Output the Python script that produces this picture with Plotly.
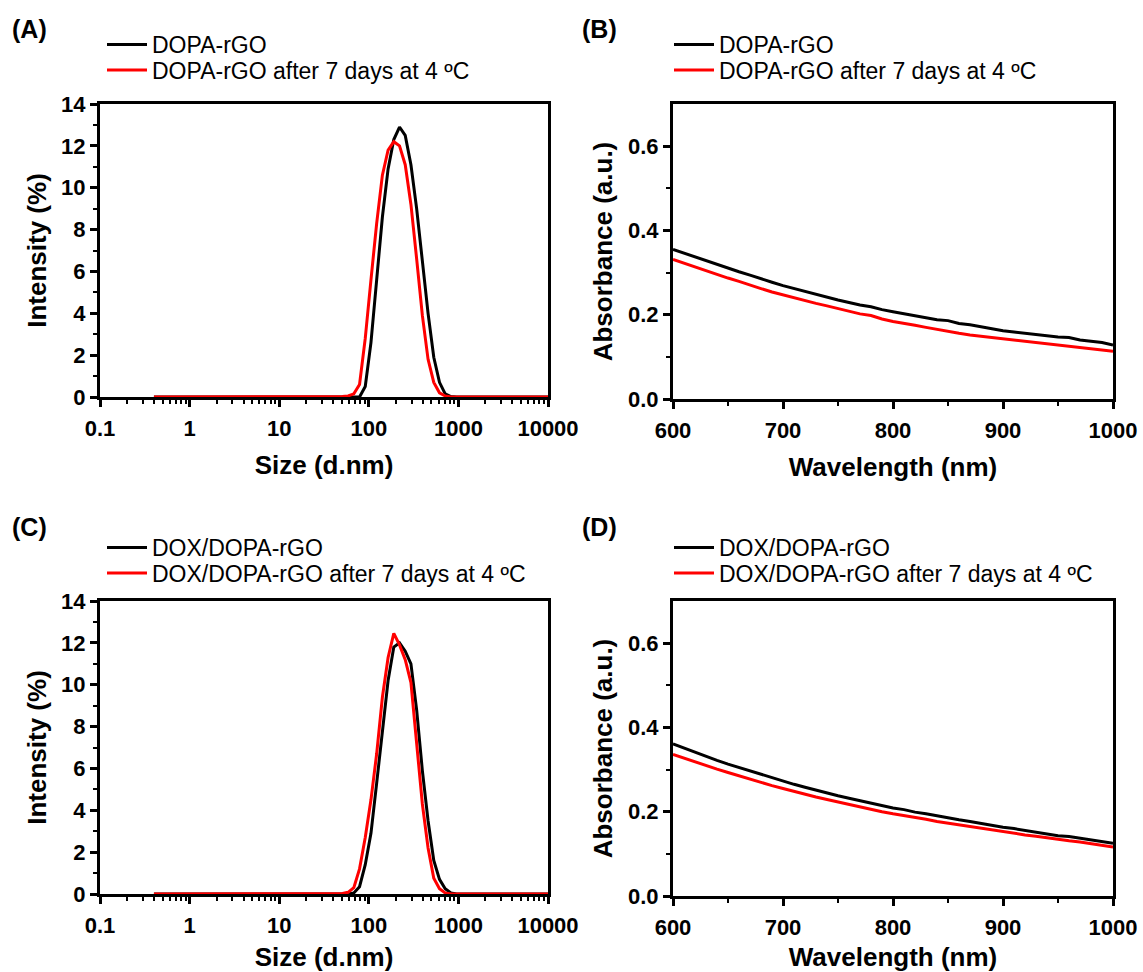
import plotly.graph_objects as go

# ---------------- DATA ----------------
sizes_nm = [0.4, 0.4632, 0.5365, 0.6213, 0.7195, 0.8332, 0.9649, 1.117, 1.294, 1.499,
            1.736, 2.01, 2.328, 2.696, 3.122, 3.615, 4.187, 4.849, 5.615, 6.503,
            7.531, 8.721, 10.1, 11.7, 13.54, 15.69, 18.17, 21.04, 24.36, 28.21,
            32.67, 37.84, 43.82, 50.75, 58.77, 68.06, 78.82, 91.28, 105.7, 122.4,
            141.8, 164.2, 190.1, 220.2, 255.0, 295.3, 342.0, 396.1, 458.7, 531.2,
            615.1, 712.4, 825.0, 955.4, 1106, 1281, 1484, 1718, 1990, 2305,
            2669, 3091, 3580, 4145, 4801, 5560, 6439, 7456, 8635, 10000]

dopa_fresh = [0, 0, 0, 0, 0, 0, 0, 0, 0, 0,
              0, 0, 0, 0, 0, 0, 0, 0, 0, 0,
              0, 0, 0, 0, 0, 0, 0, 0, 0, 0,
              0, 0, 0, 0, 0, 0, 0, 0.5, 2.6, 5.6,
              8.6, 10.9, 12.3, 12.9, 12.5, 11.1, 9.0, 6.5, 4.0, 1.9,
              0.7, 0.15, 0.02, 0, 0, 0, 0, 0, 0, 0,
              0, 0, 0, 0, 0, 0, 0, 0, 0, 0]
dopa_7d = [0, 0, 0, 0, 0, 0, 0, 0, 0, 0,
           0, 0, 0, 0, 0, 0, 0, 0, 0, 0,
           0, 0, 0, 0, 0, 0, 0, 0, 0, 0,
           0, 0, 0, 0.02, 0.05, 0.15, 0.6, 2.8, 5.6, 8.3,
           10.6, 11.8, 12.2, 12.0, 11.1, 9.2, 6.6, 3.9, 1.8, 0.7,
           0.2, 0.05, 0, 0, 0, 0, 0, 0, 0, 0,
           0, 0, 0, 0, 0, 0, 0, 0, 0, 0]
dox_fresh = [0, 0, 0, 0, 0, 0, 0, 0, 0, 0,
             0, 0, 0, 0, 0, 0, 0, 0, 0, 0,
             0, 0, 0, 0, 0, 0, 0, 0, 0, 0,
             0, 0, 0, 0, 0, 0.05, 0.35, 1.4, 2.9, 5.3,
             7.6, 10.2, 11.8, 12.0, 11.6, 11.0, 8.8, 5.9, 3.5, 1.6,
             0.7, 0.25, 0.05, 0, 0, 0, 0, 0, 0, 0,
             0, 0, 0, 0, 0, 0, 0, 0, 0, 0]
dox_7d = [0, 0, 0, 0, 0, 0, 0, 0, 0, 0,
          0, 0, 0, 0, 0, 0, 0, 0, 0, 0,
          0, 0, 0, 0, 0, 0, 0, 0, 0, 0,
          0, 0, 0, 0.02, 0.08, 0.3, 1.2, 2.7, 4.5, 6.7,
          9.4, 11.3, 12.45, 11.9, 11.2, 10.1, 7.2, 4.3, 2.2, 0.75,
          0.25, 0.05, 0, 0, 0, 0, 0, 0, 0, 0,
          0, 0, 0, 0, 0, 0, 0, 0, 0, 0]

wavelength_nm = [600, 610, 620, 630, 640, 650, 660, 670, 680, 690,
                 700, 710, 720, 730, 740, 750, 760, 770, 780, 790,
                 800, 810, 820, 830, 840, 850, 860, 870, 880, 890,
                 900, 910, 920, 930, 940, 950, 960, 970, 980, 990, 1000]
abs_dopa_fresh = [0.355, 0.346, 0.337, 0.329, 0.319, 0.311, 0.302, 0.294, 0.285, 0.277,
                  0.269, 0.262, 0.256, 0.248, 0.242, 0.235, 0.229, 0.223, 0.219, 0.212,
                  0.207, 0.202, 0.197, 0.193, 0.188, 0.186, 0.179, 0.176, 0.171, 0.166,
                  0.162, 0.159, 0.156, 0.153, 0.151, 0.147, 0.146, 0.140, 0.137, 0.134, 0.128]
abs_dopa_7d = [0.331, 0.322, 0.313, 0.304, 0.295, 0.287, 0.279, 0.270, 0.262, 0.254,
               0.247, 0.240, 0.234, 0.227, 0.221, 0.215, 0.208, 0.202, 0.198, 0.190,
               0.184, 0.180, 0.175, 0.170, 0.165, 0.161, 0.156, 0.152, 0.149, 0.145,
               0.142, 0.139, 0.136, 0.133, 0.130, 0.127, 0.125, 0.121, 0.118, 0.115, 0.113]
abs_dox_fresh = [0.361, 0.351, 0.341, 0.332, 0.322, 0.313, 0.305, 0.296, 0.288, 0.280,
                 0.272, 0.265, 0.258, 0.251, 0.244, 0.238, 0.232, 0.226, 0.220, 0.215,
                 0.209, 0.205, 0.199, 0.195, 0.190, 0.185, 0.181, 0.177, 0.172, 0.167,
                 0.163, 0.160, 0.156, 0.152, 0.148, 0.143, 0.141, 0.137, 0.133, 0.129, 0.125]
abs_dox_7d = [0.336, 0.327, 0.318, 0.310, 0.301, 0.293, 0.285, 0.277, 0.269, 0.262,
              0.255, 0.248, 0.242, 0.235, 0.229, 0.223, 0.217, 0.211, 0.206, 0.200,
              0.195, 0.191, 0.186, 0.182, 0.177, 0.173, 0.169, 0.165, 0.160, 0.156,
              0.152, 0.149, 0.145, 0.142, 0.138, 0.134, 0.131, 0.128, 0.124, 0.120, 0.116]

size_ticks = [0.1, 1, 10, 100, 1000, 10000]
size_tick_text = ["0.1", "1", "10", "100", "1000", "10000"]

names_top = ["DOPA-rGO", "DOPA-rGO after 7 days at 4 ºC"]
names_bottom = ["DOX/DOPA-rGO", "DOX/DOPA-rGO after 7 days at 4 ºC"]
panel_labels = ["(A)", "(B)", "(C)", "(D)"]

# ---------------- FIGURE ----------------
W, H = 1143, 972
FONT = "Arial, Liberation Sans, sans-serif"
BLACK, RED = "#000000", "#FF0000"

def px(x):
    return x / W

def py(y):
    return 1 - y / H

fig = go.Figure()

# (xaxis, yaxis, x data, fresh, aged, names, legend-left-px, legend-top-px)
series = [
    ("x", "y", sizes_nm, dopa_fresh, dopa_7d, names_top, 102, 23),
    ("x2", "y2", wavelength_nm, abs_dopa_fresh, abs_dopa_7d, names_top, 669, 23),
    ("x3", "y3", sizes_nm, dox_fresh, dox_7d, names_bottom, 102, 526),
    ("x4", "y4", wavelength_nm, abs_dox_fresh, abs_dox_7d, names_bottom, 669, 526),
]
legend_common = dict(xanchor="left", yanchor="top", bgcolor="rgba(0,0,0,0)",
                     font=dict(family=FONT, size=23, color="black"),
                     itemwidth=40, borderwidth=0)
legends = {}
k = 0
for xa, ya, xs, y1, y2, nm, lx, ly in series:
    for j, (yy, col) in enumerate([(y1, BLACK), (y2, RED)]):
        k += 1
        lname = "legend" if k == 1 else f"legend{k}"
        fig.add_trace(go.Scatter(x=xs, y=yy, mode="lines", name=nm[j], xaxis=xa, yaxis=ya,
                                 line=dict(color=col, width=3), legend=lname))
        legends[lname] = dict(legend_common, x=px(lx), y=py(ly + 25.5 * j))

left_dom = [px(100), px(548)]
right_dom = [px(673), px(1113)]
topA = [py(397), py(104)]
topB = [py(399), py(104)]
botC = [py(894), py(601)]
botD = [py(896), py(601)]

tickfont = dict(family=FONT, size=22, color="black", weight="bold")
titlefont = dict(family=FONT, size=26, color="black", weight="bold")
common = dict(showline=True, linecolor="black", linewidth=3, mirror=True,
              ticks="outside", ticklen=7, tickwidth=3, tickcolor="black",
              showgrid=False, zeroline=False, tickfont=tickfont, automargin=False)

def size_axis(dom, anchor):
    return dict(common, type="log", domain=dom, anchor=anchor, range=[-1, 4],
                tickmode="array", tickvals=size_ticks, ticktext=size_tick_text,
                ticklabelstandoff=3,
                minor=dict(ticks="outside", ticklen=4, tickwidth=2, tickcolor="black", dtick="D1"),
                title=dict(text="Size (d.nm)", font=titlefont, standoff=16))

def wl_axis(dom, anchor):
    return dict(common, domain=dom, anchor=anchor, range=[600, 1000], dtick=100,
                ticklabelstandoff=3,
                minor=dict(ticks="outside", ticklen=4, tickwidth=2, tickcolor="black", dtick=50),
                title=dict(text="Wavelength (nm)", font=titlefont, standoff=16))

def int_axis(dom, anchor):
    return dict(common, domain=dom, anchor=anchor, range=[0, 14], dtick=2,
                minor=dict(ticks="outside", ticklen=4, tickwidth=2, tickcolor="black", dtick=1),
                title=dict(text="Intensity (%)", font=titlefont, standoff=8))

def abs_axis(dom, anchor):
    return dict(common, domain=dom, anchor=anchor, range=[0, 0.7], tickvals=[0, 0.2, 0.4, 0.6],
                tickformat=".1f",
                minor=dict(ticks="outside", ticklen=4, tickwidth=2, tickcolor="black",
                           tickvals=[0.1, 0.3, 0.5]),
                title=dict(text="Absorbance (a.u.)", font=titlefont, standoff=8))

fig.update_layout(
    width=W, height=H, margin=dict(l=0, r=0, t=0, b=0, autoexpand=False),
    paper_bgcolor="white", plot_bgcolor="white",
    xaxis=size_axis(left_dom, "y"), yaxis=int_axis(topA, "x"),
    xaxis2=wl_axis(right_dom, "y2"), yaxis2=abs_axis(topB, "x2"),
    xaxis3=size_axis(left_dom, "y3"), yaxis3=int_axis(botC, "x3"),
    xaxis4=wl_axis(right_dom, "y4"), yaxis4=abs_axis(botD, "x4"),
    showlegend=True,
    **legends,
)

label_pos = [(10, 29), (580, 29), (10, 527), (580, 527)]
for lab, (lx, ly) in zip(panel_labels, label_pos):
    fig.add_annotation(text=f"<b>{lab}</b>", xref="paper", yref="paper", x=px(lx), y=py(ly),
                       xanchor="left", yanchor="middle", showarrow=False,
                       font=dict(family=FONT, size=25, color="black"))

fig.write_html("out.html", config={"displayModeBar": False},
               post_script="document.body.style.margin='0';document.body.style.overflow='hidden';")
